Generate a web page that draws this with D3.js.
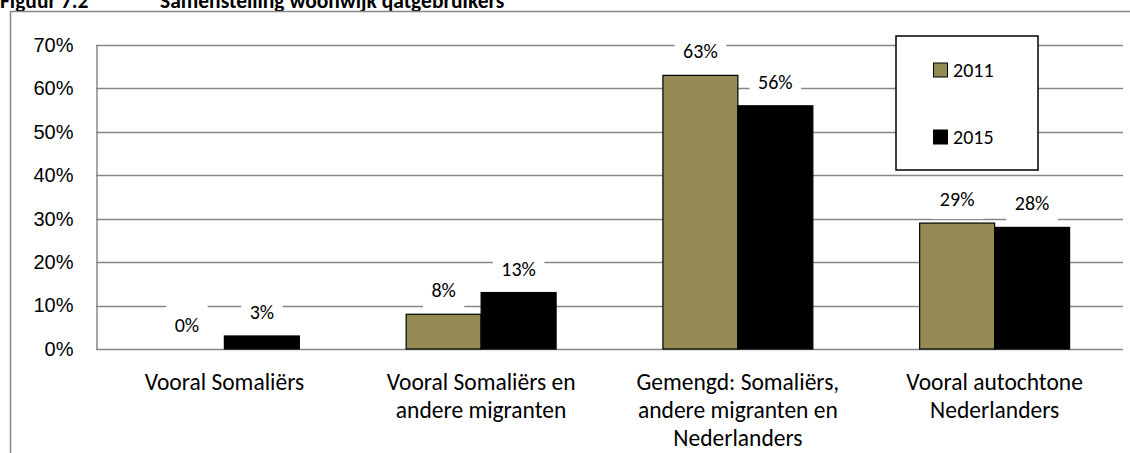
<!DOCTYPE html>
<html>
<head>
<meta charset="utf-8">
<script src="https://cdn.jsdelivr.net/npm/d3@7"></script>
<style>
  body { margin: 0; background: #fff; }
  svg { display: block; font-family: Carlito, Lato, "Open Sans", sans-serif; }
</style>
</head>
<body>
<svg id="chart"></svg>
<script>
const categories = [
  "Vooral Somaliërs",
  "Vooral Somaliërs en\nandere migranten",
  "Gemengd: Somaliërs,\nandere migranten en\nNederlanders",
  "Vooral autochtone\nNederlanders"
];
const series = ["2011", "2015"];
const values2011 = [0, 8, 63, 29];
const values2015 = [3, 13, 56, 28];
const yTicks = [0, 10, 20, 30, 40, 50, 60, 70];

const width = 1130;
const height = 453;
const colors = { "2011": "#948a54", "2015": "#000000" };
const gridColor = "#878787";
const numSize = 20;
const catSize = 23.5;

const svg = d3.select("#chart")
  .attr("width", width)
  .attr("height", height);

// cut-off caption above the frame
svg.append("text")
  .attr("x", 0)
  .attr("y", 7.5)
  .attr("font-weight", "bold")
  .attr("font-size", 21.5)
  .text("Figuur 7.2");
svg.append("text")
  .attr("x", 160)
  .attr("y", 7.5)
  .attr("font-weight", "bold")
  .attr("font-size", 21.5)
  .text("Samenstelling woonwijk qatgebruikers");

// outer frame (only top and left visible)
svg.append("path")
  .attr("d", `M10.5,${height} V11.5 H${width}`)
  .attr("fill", "none")
  .attr("stroke", gridColor)
  .attr("stroke-width", 1.5);

const plot = { left: 96, right: 1123, top: 45, bottom: 349 };

const x0 = d3.scaleBand()
  .domain(categories)
  .range([plot.left, plot.right])
  .paddingInner(0.416)
  .paddingOuter(0.208);

const x1 = d3.scaleBand()
  .domain(series)
  .range([0, x0.bandwidth()]);

const y = d3.scaleLinear()
  .domain([0, 70])
  .range([plot.bottom, plot.top]);

// gridlines
svg.append("g")
  .selectAll("line")
  .data(yTicks)
  .join("line")
  .attr("x1", plot.left)
  .attr("x2", plot.right)
  .attr("y1", d => Math.round(y(d)) + 0.5)
  .attr("y2", d => Math.round(y(d)) + 0.5)
  .attr("stroke", gridColor)
  .attr("stroke-width", 1.5);

// y axis
const yAxis = svg.append("g")
  .attr("transform", `translate(${plot.left + 0.5},0)`)
  .call(d3.axisLeft(y).tickValues(yTicks).tickSize(0).tickPadding(23).tickFormat(d => d + "%"));
yAxis.select(".domain").attr("stroke", gridColor).attr("stroke-width", 1.5);
yAxis.selectAll("text")
  .attr("font-size", numSize)
  .attr("fill", "#000")
  .attr("font-family", null);

// bars
const rows = categories.map((c, i) => ({
  cat: c,
  items: [
    { key: "2011", value: values2011[i] },
    { key: "2015", value: values2015[i] }
  ]
}));

const groups = svg.append("g")
  .selectAll("g")
  .data(rows)
  .join("g")
  .attr("transform", d => `translate(${x0(d.cat)},0)`);

groups.selectAll("rect")
  .data(d => d.items.filter(it => it.value > 0))
  .join("rect")
  .attr("x", d => x1(d.key))
  .attr("y", d => y(d.value))
  .attr("width", x1.bandwidth())
  .attr("height", d => y(0) - y(d.value))
  .attr("fill", d => colors[d.key])
  .attr("stroke", "#000")
  .attr("stroke-width", 1.2);

// data labels with white boxes
const labels = groups.selectAll("g.lbl")
  .data(d => d.items)
  .join("g")
  .attr("class", "lbl")
  .attr("transform", d => `translate(${x1(d.key) + x1.bandwidth() / 2},${y(d.value) - 24})`);

labels.append("text")
  .attr("text-anchor", "middle")
  .attr("dy", "0.35em")
  .attr("font-size", numSize)
  .attr("fill", "#000")
  .text(d => d.value + "%");

labels.each(function() {
  const g = d3.select(this);
  const w = g.select("text").node().getComputedTextLength();
  g.insert("rect", "text")
    .attr("x", -w / 2 - 8.5)
    .attr("y", -20)
    .attr("width", w + 17)
    .attr("height", 40)
    .attr("fill", "#fff");
});

// category labels
svg.append("g")
  .selectAll("text")
  .data(categories)
  .join("text")
  .attr("x", d => x0(d) + x0.bandwidth() / 2)
  .attr("y", 382)
  .attr("text-anchor", "middle")
  .attr("font-size", catSize)
  .attr("fill", "#000")
  .each(function(d) {
    d3.select(this).selectAll("tspan")
      .data(d.split("\n"))
      .join("tspan")
      .attr("x", x0(d) + x0.bandwidth() / 2)
      .attr("dy", (t, i) => i === 0 ? "0.35em" : 28)
      .text(t => t);
  });

// legend
const legend = svg.append("g").attr("transform", "translate(896,36)");
legend.append("rect")
  .attr("width", 142)
  .attr("height", 134)
  .attr("fill", "#fff")
  .attr("stroke", "#000")
  .attr("stroke-width", 1.5);

const legendItems = legend.selectAll("g")
  .data(series)
  .join("g")
  .attr("transform", (d, i) => `translate(37,${34 + i * 67})`);

legendItems.append("rect")
  .attr("x", 0.5)
  .attr("y", -7)
  .attr("width", 14)
  .attr("height", 14)
  .attr("fill", d => colors[d])
  .attr("stroke", "#000")
  .attr("stroke-width", 1);

legendItems.append("text")
  .attr("x", 20)
  .attr("dy", "0.35em")
  .attr("font-size", numSize)
  .attr("fill", "#000")
  .text(d => d);
</script>
</body>
</html>
